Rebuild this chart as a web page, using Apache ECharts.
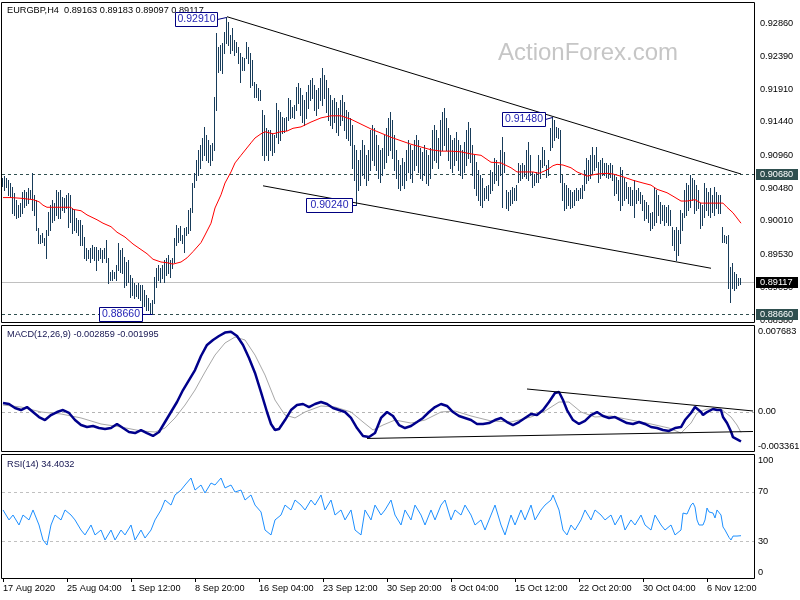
<!DOCTYPE html>
<html><head><meta charset="utf-8">
<script src="https://cdn.jsdelivr.net/npm/echarts@6/dist/echarts.min.js"></script>
<style>html,body{margin:0;padding:0;background:#fff}#c{width:800px;height:600px}</style>
</head><body><div id="c"></div><script>
// ---------------- DATA ----------------
const symbol = 'EURGBP', timeframe = 'H4';
const lastBar = [0.89163, 0.89183, 0.89097, 0.89117]; // O H L C
const highs = [
0.9062,0.9065,0.9062,0.9059,0.9055,0.9049,0.9041,0.9030,0.9023,0.9026,
0.9042,0.9045,0.9042,0.9048,0.9045,0.9069,0.9038,0.9030,0.8990,0.8980,
0.8983,0.8976,0.8987,0.9013,0.9023,0.9030,0.9026,0.9045,0.9042,0.9045,
0.9035,0.9033,0.9038,0.9041,0.9038,0.9019,0.9016,0.9005,0.9002,0.9002,
0.8994,0.8977,0.8961,0.8958,0.8961,0.8966,0.8963,0.8963,0.8958,0.8961,
0.8958,0.8961,0.8973,0.8947,0.8927,0.8929,0.8927,0.8937,0.8968,0.8958,
0.8961,0.8948,0.8941,0.8944,0.8922,0.8918,0.8911,0.8908,0.8911,0.8908,
0.8908,0.8901,0.8893,0.8889,0.8882,0.8886,0.8919,0.8932,0.8937,0.8932,
0.8937,0.8944,0.8947,0.8951,0.8944,0.8947,0.8976,0.8994,0.8990,0.8993,
0.8980,0.8990,0.8992,0.9016,0.9019,0.9055,0.9069,0.9088,0.9103,0.9110,
0.9120,0.9136,0.9124,0.9117,0.9110,0.9113,0.9179,0.9271,0.9251,0.9254,
0.9257,0.9273,0.9295,0.9287,0.9269,0.9279,0.9261,0.9258,0.9251,0.9243,
0.9237,0.9235,0.9258,0.9251,0.9243,0.9233,0.9201,0.9198,0.9192,0.9189,
0.9160,0.9153,0.9134,0.9132,0.9132,0.9127,0.9124,0.9170,0.9160,0.9157,
0.9150,0.9149,0.9150,0.9178,0.9175,0.9165,0.9168,0.9194,0.9199,0.9192,
0.9182,0.9175,0.9186,0.9196,0.9204,0.9207,0.9196,0.9189,0.9192,0.9207,
0.9221,0.9211,0.9204,0.9192,0.9182,0.9175,0.9178,0.9172,0.9163,0.9175,
0.9182,0.9172,0.9160,0.9157,0.9149,0.9139,0.9110,0.9103,0.9088,0.9103,
0.9117,0.9110,0.9095,0.9103,0.9132,0.9139,0.9134,0.9124,0.9110,0.9103,
0.9106,0.9124,0.9134,0.9149,0.9157,0.9146,0.9124,0.9103,0.9088,0.9081,
0.9091,0.9085,0.9103,0.9117,0.9110,0.9103,0.9117,0.9124,0.9117,0.9106,
0.9100,0.9110,0.9103,0.9095,0.9106,0.9132,0.9139,0.9132,0.9120,0.9146,
0.9157,0.9163,0.9149,0.9134,0.9124,0.9117,0.9120,0.9129,0.9117,0.9110,
0.9103,0.9114,0.9132,0.9143,0.9134,0.9110,0.9095,0.9085,0.9074,0.9067,
0.9062,0.9048,0.9051,0.9052,0.9074,0.9071,0.9091,0.9088,0.9081,0.9103,
0.9121,0.9100,0.9045,0.9042,0.9045,0.9049,0.9048,0.9052,0.9084,0.9081,
0.9084,0.9081,0.9103,0.9114,0.9095,0.9071,0.9068,0.9071,0.9095,0.9088,
0.9107,0.9103,0.9081,0.9088,0.9134,0.9150,0.9146,0.9136,0.9134,0.9132,
0.9067,0.9055,0.9052,0.9048,0.9045,0.9042,0.9045,0.9048,0.9045,0.9048,
0.9052,0.9074,0.9091,0.9088,0.9095,0.9107,0.9095,0.9107,0.9085,0.9088,
0.9091,0.9084,0.9084,0.9081,0.9084,0.9081,0.9067,0.9064,0.9059,0.9078,
0.9074,0.9062,0.9056,0.9049,0.9049,0.9045,0.9059,0.9045,0.9048,0.9042,
0.9038,0.9030,0.9028,0.9023,0.9012,0.9013,0.9049,0.9045,0.9038,0.9028,
0.9023,0.9023,0.9020,0.9023,0.9016,0.8992,0.8987,0.8992,0.8987,0.9016,
0.9012,0.9045,0.9055,0.9052,0.9067,0.9062,0.9059,0.9052,0.9045,0.9026,
0.9023,0.9055,0.9048,0.9042,0.9048,0.9038,0.9049,0.9042,0.9038,0.9038,
0.8992,0.8980,0.8978,0.8980,0.8934,0.8940,0.8927,0.8924,0.8918,0.89183];
const lows = [
0.9051,0.9045,0.9049,0.9038,0.9035,0.9012,0.9009,0.9005,0.9006,0.9007,
0.9012,0.9020,0.9023,0.9026,0.9033,0.9016,0.9009,0.8987,0.8968,0.8968,
0.8970,0.8966,0.8947,0.8980,0.8987,0.8999,0.9002,0.9009,0.9005,0.9005,
0.9016,0.9013,0.9019,0.8992,0.8999,0.8983,0.8987,0.8984,0.8980,0.8966,
0.8966,0.8947,0.8944,0.8947,0.8941,0.8947,0.8944,0.8929,0.8944,0.8947,
0.8941,0.8947,0.8941,0.8911,0.8915,0.8915,0.8918,0.8915,0.8929,0.8927,
0.8925,0.8905,0.8908,0.8912,0.8891,0.8893,0.8889,0.8892,0.8889,0.8886,
0.8875,0.8878,0.8872,0.8872,0.8867,0.8866,0.8882,0.8905,0.8915,0.8912,
0.8918,0.8912,0.8922,0.8925,0.8919,0.8932,0.8941,0.8966,0.8970,0.8973,
0.8968,0.8955,0.8980,0.8983,0.8987,0.9013,0.9049,0.9059,0.9067,0.9077,
0.9088,0.9095,0.9088,0.9085,0.9081,0.9088,0.9103,0.9160,0.9215,0.9218,
0.9214,0.9243,0.9257,0.9254,0.9243,0.9247,0.9240,0.9244,0.9228,0.9201,
0.9218,0.9218,0.9235,0.9228,0.9194,0.9196,0.9179,0.9179,0.9175,0.9175,
0.9095,0.9088,0.9095,0.9088,0.9103,0.9095,0.9100,0.9121,0.9113,0.9117,
0.9127,0.9129,0.9132,0.9146,0.9149,0.9150,0.9149,0.9160,0.9170,0.9153,
0.9143,0.9139,0.9149,0.9163,0.9175,0.9178,0.9160,0.9153,0.9163,0.9175,
0.9168,0.9178,0.9157,0.9146,0.9139,0.9134,0.9143,0.9129,0.9124,0.9139,
0.9146,0.9132,0.9120,0.9117,0.9110,0.9077,0.9059,0.9024,0.9045,0.9052,
0.9067,0.9062,0.9052,0.9059,0.9074,0.9088,0.9081,0.9074,0.9062,0.9056,
0.9067,0.9077,0.9085,0.9095,0.9103,0.9091,0.9074,0.9062,0.9048,0.9045,
0.9052,0.9048,0.9059,0.9071,0.9062,0.9056,0.9074,0.9081,0.9071,0.9062,
0.9059,0.9067,0.9055,0.9052,0.9062,0.9077,0.9088,0.9085,0.9077,0.9095,
0.9103,0.9110,0.9103,0.9088,0.9077,0.9071,0.9081,0.9088,0.9074,0.9067,
0.9062,0.9071,0.9081,0.9091,0.9085,0.9067,0.9048,0.9038,0.9030,0.9023,
0.9020,0.9030,0.9033,0.9030,0.9041,0.9045,0.9055,0.9059,0.9052,0.9067,
0.9020,0.9071,0.9019,0.9016,0.9023,0.9026,0.9030,0.9030,0.9056,0.9059,
0.9062,0.9065,0.9062,0.9059,0.9067,0.9049,0.9052,0.9056,0.9056,0.9062,
0.9078,0.9081,0.9064,0.9067,0.9103,0.9107,0.9117,0.9121,0.9120,0.9056,
0.9030,0.9016,0.9019,0.9023,0.9019,0.9020,0.9023,0.9030,0.9030,0.9033,
0.9033,0.9045,0.9055,0.9059,0.9062,0.9069,0.9074,0.9078,0.9056,0.9062,
0.9067,0.9067,0.9064,0.9062,0.9064,0.9059,0.9038,0.9041,0.9030,0.9016,
0.9023,0.9030,0.9033,0.9026,0.9023,0.9023,0.9006,0.9026,0.9030,0.9026,
0.9016,0.9002,0.9005,0.8999,0.8987,0.8990,0.8994,0.8999,0.9009,0.8997,
0.9002,0.8994,0.8999,0.8994,0.8994,0.8966,0.8958,0.8944,0.8951,0.8968,
0.8987,0.9006,0.9009,0.9016,0.9020,0.9030,0.9012,0.9016,0.9019,0.8990,
0.8994,0.9006,0.9016,0.9009,0.9006,0.9013,0.9009,0.9019,0.9012,0.9012,
0.8970,0.8970,0.8968,0.8904,0.8883,0.8904,0.8901,0.8904,0.8908,0.89097];

// moving average (read at sampled bars)
const maIdx = [0,4,9,15,18,20,22,34,35,39,42,47,50,54,57,61,65,69,72,75,79,82,85,89,92,95,99,101,104,106,109,111,114,116,119,124,126,129,131,135,139,142,145,149,154,159,164,169,174,179,184,189,194,199,204,209,214,219,224,229,234,239,244,249,254,257,265,268,272,275,277,280,284,287,292,297,302,305,310,315,320,324,327,332,335,339,342,346,349,354,360,362,365,369];
const maVal = [0.9034,0.9034,0.9033,0.9031,0.9028,0.9023,0.9020,0.9020,0.9017,0.9015,0.9009,0.9002,0.8997,0.8992,0.8984,0.8977,0.8967,0.8959,0.8953,0.8945,0.8941,0.8940,0.8938,0.8941,0.8947,0.8956,0.8969,0.8980,0.8997,0.9019,0.9038,0.9055,0.9071,0.9084,0.9095,0.9113,0.9120,0.9126,0.9129,0.9126,0.9129,0.9130,0.9134,0.9136,0.9143,0.9149,0.9152,0.9152,0.9147,0.9140,0.9133,0.9127,0.9121,0.9116,0.9111,0.9107,0.9103,0.9101,0.9101,0.9100,0.9097,0.9095,0.9085,0.9084,0.9077,0.9071,0.9071,0.9069,0.9074,0.9080,0.9082,0.9081,0.9077,0.9071,0.9065,0.9068,0.9069,0.9068,0.9064,0.9059,0.9055,0.9052,0.9046,0.9041,0.9036,0.9029,0.9029,0.9031,0.9026,0.9026,0.9026,0.9020,0.9012,0.8997];

// MACD main and signal (sampled bars)
const macdIdx = [0,3,6,9,12,15,18,21,24,27,30,33,36,39,42,45,48,51,54,57,60,63,66,69,72,75,78,81,84,87,90,93,96,99,102,105,108,111,114,117,120,123,126,129,132,134,136,138,141,144,147,150,153,156,159,162,165,168,171,174,177,180,183,186,189,192,195,198,201,204,207,210,213,216,219,222,225,228,231,234,237,240,243,246,249,252,255,258,261,264,267,270,273,276,278,280,282,285,288,291,294,297,300,303,306,309,312,315,318,321,324,327,330,333,336,339,341,344,346,349,350,352,355,357,359,360,362,364,365,368,369];
const macdVal = [0.00084,0.00074,0.00036,0.00016,0.00045,-0.00003,-0.00051,-0.00080,-0.00032,-0.00003,
0.00016,-0.00012,-0.00080,-0.00128,-0.00147,-0.00137,-0.00157,-0.00166,-0.00157,-0.00118,
-0.00157,-0.00195,-0.00205,-0.00176,-0.00205,-0.00233,-0.00195,-0.00099,-0.00003,0.00093,
0.00208,0.00304,0.00400,0.00535,0.00641,0.00689,0.00727,0.00760,0.007683,0.00727,
0.00641,0.00516,0.00372,0.00189,-0.00003,-0.00118,-0.00176,-0.00166,-0.00080,0.00016,
0.00064,0.00074,0.00045,0.00074,0.00093,0.00074,0.00036,0.00016,-0.00003,-0.00060,
-0.00157,-0.00233,-0.00243,-0.00205,-0.00060,-0.00003,-0.00041,-0.00128,-0.00157,-0.00137,
-0.00099,-0.00060,-0.00003,0.00045,0.00074,0.00055,-0.00003,-0.00041,-0.00060,-0.00080,
-0.00118,-0.00118,-0.00109,-0.00080,-0.00060,-0.00099,-0.00128,-0.00099,-0.00060,-0.00022,
-0.00032,0.00016,0.00093,0.00180,0.00189,0.00112,0.00016,-0.00080,-0.00118,-0.00089,
-0.00032,-0.00003,-0.00041,-0.00060,-0.00051,-0.00080,-0.00109,-0.00118,-0.00099,-0.00118,
-0.00147,-0.00157,-0.00176,-0.00185,-0.00157,-0.00147,-0.00080,-0.00012,0.00045,-0.00003,
-0.00032,-0.00003,0.00026,0.00016,0.00016,-0.00051,-0.00109,-0.00190,-0.00245,-0.00275,
-0.002859];
const sigIdx = [0,9,19,29,39,49,59,69,76,81,86,91,96,101,106,111,116,121,126,131,136,141,146,151,159,166,174,180,185,190,196,204,211,219,226,234,244,254,264,271,278,283,289,296,304,314,324,333,339,344,347,352,359,364,367,369];
const sigVal = [0.00064,0.00045,-0.00003,-0.00022,-0.00060,-0.00118,-0.00147,-0.00185,-0.00195,-0.00157,
-0.00060,0.00064,0.00208,0.00381,0.00544,0.00660,0.00717,0.00689,0.00544,0.00352,
0.00112,-0.00032,-0.00060,-0.00003,0.00055,0.00045,-0.00003,-0.00099,-0.00176,-0.00128,
-0.00080,-0.00109,-0.00080,-0.00003,0.00007,-0.00041,-0.00089,-0.00099,-0.00051,0.00007,
0.00093,0.00093,-0.00003,-0.00051,-0.00041,-0.00080,-0.00118,-0.00157,-0.00205,-0.00109,
-0.00012,0.00026,0.00026,-0.00051,-0.00128,-0.001995];
const macdLast = [-0.002859, -0.001995];

// RSI (sampled bars)
const rsiIdx = [0,3,5,8,10,13,15,18,20,22,24,26,29,31,34,36,39,41,44,46,49,51,54,56,59,61,64,66,69,71,74,76,79,81,84,86,89,91,94,96,99,101,104,106,109,111,114,116,119,121,124,126,129,131,134,136,139,141,144,146,149,151,154,156,159,161,164,166,169,171,174,176,179,181,184,186,189,191,194,196,199,201,204,206,209,211,214,216,219,221,224,226,229,231,234,236,239,241,244,246,249,251,254,256,259,261,264,266,269,271,274,275,278,280,282,284,286,289,291,294,296,299,301,304,306,309,311,314,316,319,321,324,326,329,331,334,336,339,340,341,342,344,345,346,347,348,350,351,352,353,355,356,357,358,359,360,361,362,363,364,365,366,367,368,369];
const rsiVal = [55.3,47.2,51.2,43.1,51.2,47.2,55.3,43.1,30.9,26.8,
43.1,51.2,47.2,55.3,51.2,47.2,39.0,35.0,43.1,35.0,
39.0,30.9,39.0,30.9,39.0,35.0,43.1,30.9,39.0,32.5,
39.0,47.2,55.3,63.4,59.3,67.5,71.5,75.6,81.3,71.5,
75.6,69.1,77.2,75.6,81.3,73.2,75.6,69.9,71.5,63.4,
67.5,59.3,53.7,39.0,35.0,47.2,51.2,59.3,55.3,63.4,
59.3,55.3,63.4,59.3,67.5,55.3,63.4,51.2,55.3,47.2,
55.3,39.0,35.0,55.3,47.2,59.3,51.2,55.3,63.4,51.2,
43.1,55.3,47.2,59.3,51.2,43.1,55.3,47.2,59.3,63.4,
47.2,55.3,51.2,59.3,51.2,43.1,47.2,39.0,51.2,59.3,
43.1,35.0,51.2,43.1,55.3,47.2,59.3,47.2,55.3,59.3,
63.4,67.5,55.3,39.0,35.0,43.1,39.0,47.2,55.3,47.2,
55.3,51.2,47.2,51.2,43.1,51.2,39.0,47.2,43.1,51.2,
43.1,39.0,51.2,43.1,39.0,43.1,35.0,39.0,52.8,53.7,
52.0,59.3,61.0,57.7,47.2,43.1,43.1,47.2,56.9,53.7,
52.8,48.8,55.3,56.9,51.2,41.5,39.0,37.4,33.0,30.9,
34.1,32.5,34.1,35.0,34.4032];
const rsiLast = 34.4032;

// trend lines: [barIndex, value] end points
const trendMain = [[[112, 0.9295], [369, 0.9068]], [[130, 0.9051], [354, 0.8932]]];
const trendMacd = [[[262, 0.00218], [375, 0.00007]], [[182, -0.00257], [375, -0.00190]]];
const levels = [0.9068, 0.8866];
const rsiLevels = [30, 70];
const noteIdx = [112, 275, 177, 75];
const noteVal = [0.9291, 0.9148, 0.9024, 0.8866];

// axes
const barCount = 376;
const tickIdx = [0,32,64,96,128,160,192,224,256,288,320,352];
const tickLabels = ['17 Aug 2020','25 Aug 04:00','1 Sep 12:00','8 Sep 20:00','16 Sep 04:00','23 Sep 12:00','30 Sep 20:00','8 Oct 04:00','15 Oct 12:00','22 Oct 20:00','30 Oct 04:00','6 Nov 12:00'];
const priceLabels = [0.92860,0.92390,0.91910,0.91440,0.90960,0.90480,0.90010,0.89530,0.89050,0.88580];
const macdLabels = [0.007683, 0, -0.003361];
const macdLabelText = ['0.007683', '0.00', '-0.003361'];
const rsiLabels = [100, 70, 30, 0];
const priceRange = [0.88530, 0.93148];
const macdRange = [-0.00387, 0.00823];

// ---------------- STYLE ----------------
const F = '"Liberation Sans", Arial, sans-serif';
const FS = 9.2;
const BAR = '#183c5a';
const grids = [
  {left: 2, width: 752, top: 3, height: 320},
  {left: 2, width: 752, top: 326, height: 126},
  {left: 2, width: 752, top: 455, height: 123}
];
const NOTE_GAP = [10, 8, 5, 11];
const NOTE_W = [42, 43, 46, 43];

const cats = Array.from({length: barCount}, (_, i) => String(i));
const pairs = (idx, val) => idx.map((i, k) => [i, val[k]]);
const showTick = (index) => tickIdx.indexOf(index) >= 0;

const xAxes = grids.map((g, k) => ({
  type: 'category', gridIndex: k, data: cats, boundaryGap: true,
  axisLine: {show: false}, splitLine: {show: false},
  axisTick: k === 2 ? {show: true, interval: showTick, alignWithLabel: true, length: 4, lineStyle: {color: '#000'}} : {show: false},
  axisLabel: k === 2 ? {show: true, interval: showTick, align: 'left', margin: 6, fontSize: FS, fontFamily: F, color: '#000',
    formatter: (v) => tickLabels[tickIdx.indexOf(Number(v))] || ''} : {show: false}
}));
const yAxes = [
  {type: 'value', gridIndex: 0, min: priceRange[0], max: priceRange[1], show: false},
  {type: 'value', gridIndex: 1, min: macdRange[0], max: macdRange[1], show: false},
  {type: 'value', gridIndex: 2, min: 0, max: 100, show: false}
];

const series = [];
series.push({
  type: 'custom', xAxisIndex: 0, yAxisIndex: 0, z: 2, clip: false,
  data: highs.map((h, i) => [i, lows[i], h]),
  encode: {x: 0, y: [1, 2]},
  renderItem: (params, api) => {
    const i = api.value(0);
    const a = api.coord([i, api.value(2)]);
    const b = api.coord([i, api.value(1)]);
    const y1 = Math.round(a[1]), y2 = Math.round(b[1]);
    return {type: 'rect', shape: {x: Math.round(a[0]) - 1, y: y1, width: 1, height: Math.max(1, y2 - y1 + 1)}, style: {fill: BAR}};
  }
});
series.push({
  type: 'line', xAxisIndex: 0, yAxisIndex: 0, z: 3, showSymbol: false, silent: true,
  data: pairs(maIdx, maVal), lineStyle: {color: '#ff0000', width: 1}
});
trendMain.forEach(t => series.push({type: 'line', xAxisIndex: 0, yAxisIndex: 0, z: 4, showSymbol: false, silent: true,
  data: t, lineStyle: {color: '#000', width: 1}}));
series.push({
  type: 'line', xAxisIndex: 1, yAxisIndex: 1, z: 2, showSymbol: false, silent: true,
  data: pairs(sigIdx, sigVal), lineStyle: {color: '#a8a8a8', width: 1}
});
series.push({
  type: 'line', xAxisIndex: 1, yAxisIndex: 1, z: 3, showSymbol: false, silent: true,
  data: pairs(macdIdx, macdVal), lineStyle: {color: '#00008b', width: 2.5}
});
trendMacd.forEach(t => series.push({type: 'line', xAxisIndex: 1, yAxisIndex: 1, z: 4, showSymbol: false, silent: true,
  data: t, lineStyle: {color: '#000', width: 1}}));
series.push({
  type: 'line', xAxisIndex: 2, yAxisIndex: 2, z: 3, showSymbol: false, silent: true,
  data: pairs(rsiIdx, rsiVal), lineStyle: {color: '#1e90ff', width: 1}
});

const chart = echarts.init(document.getElementById('c'), null, {renderer: 'canvas', width: 800, height: 600});
chart.setOption({
  backgroundColor: '#ffffff', animation: false,
  grid: grids.map(g => Object.assign({containLabel: false, show: false}, g)),
  xAxis: xAxes, yAxis: yAxes, series: series
});

// ---------------- GRAPHIC OVERLAYS ----------------
const P = (g, i, v) => chart.convertToPixel({gridIndex: g}, [i, v]);
const els = [];
const txt = (x, y, t, fill, size, align, z) => ({type: 'text', silent: true, z: z || 50,
  style: {x: x, y: y, text: t, fill: fill, fontSize: size, fontFamily: F, align: align || 'left', verticalAlign: 'middle'}});
const rect = (x, y, w, h, fill, stroke, z) => ({type: 'rect', silent: true, z: z || 50,
  shape: {x: x, y: y, width: w, height: h}, style: {fill: fill, stroke: stroke || null, lineWidth: 1}});
const hline = (g, v, stroke, dash, z) => {
  const y = Math.round(P(g, 0, v)[1]) + 0.5;
  return {type: 'line', silent: true, z: z || 1,
    shape: {x1: grids[g].left, y1: y, x2: grids[g].left + grids[g].width, y2: y},
    style: {stroke: stroke, lineWidth: 1, lineDash: dash || null}};
};

// watermark
els.push(txt(498, 53, 'ActionForex.com', '#c6c6c6', 24, 'left', 1));
// level lines
levels.forEach(v => els.push(hline(0, v, '#2f4f4f', [3, 3], 1)));
els.push(hline(0, lastBar[3], '#c0c0c0', null, 1));
els.push(hline(1, 0, '#b4b4b4', [3, 3], 1));
rsiLevels.forEach(v => els.push(hline(2, v, '#c0c0c0', [3, 3], 1)));
// panel frames
els.push(rect(1.5, 2.5, 753, 320, 'none', '#000', 60));
els.push(rect(1.5, 325.5, 753, 126, 'none', '#000', 60));
els.push(rect(1.5, 454.5, 753, 124, 'none', '#000', 60));
// headers
els.push(txt(7, 10, symbol + ',' + timeframe + '  ' + lastBar.map(v => v.toFixed(5)).join(' '), '#000', FS));
els.push(txt(7, 334, 'MACD(12,26,9) ' + macdLast.map(v => v.toFixed(6)).join(' '), '#141450', FS));
els.push(txt(7, 464, 'RSI(14) ' + rsiLast.toFixed(4), '#141450', FS));

// right-hand scale labels
priceLabels.forEach(v => els.push(txt(760, Math.round(P(0, 0, v)[1]), v.toFixed(5), '#000', FS)));
const clampY = (y, g) => Math.min(g.top + g.height - 5.5, Math.max(g.top + 5.5, y));
macdLabels.forEach((v, k) => els.push(txt(758, clampY(P(1, 0, v)[1], grids[1]), macdLabelText[k], '#000', FS)));
rsiLabels.forEach(v => els.push(txt(758, clampY(P(2, 0, v)[1], grids[2]), String(v), '#000', FS)));

// highlighted price boxes
[[levels[0], '#2f4f4f'], [levels[1], '#2f4f4f'], [lastBar[3], '#000000']].forEach(([v, c]) => {
  const y = Math.round(P(0, 0, v)[1]);
  els.push(rect(756, y - 5, 42, 11, c, null, 70));
  els.push(txt(760, y + 0.5, v.toFixed(5), '#ffffff', FS, 'left', 71));
});

// annotation boxes
noteIdx.forEach((i, k) => {
  const v = noteVal[k];
  const p = P(0, i, v);
  const w = NOTE_W[k];
  const cy = Math.round(p[1]);
  const bx = Math.round(p[0] - NOTE_GAP[k] - w) + 0.5;
  const ext = Math.abs(highs[i] - v) < Math.abs(lows[i] - v) ? highs[i] : lows[i];
  const q = P(0, i, ext);
  els.push({type: 'line', silent: true, z: 80, shape: {x1: bx + w, y1: cy + 0.5, x2: Math.round(q[0]) - 0.5, y2: Math.round(q[1]) + 0.5},
    style: {stroke: '#000080', lineWidth: 1}});
  els.push(rect(bx, cy - 6.5, w, 14, '#ffffff', '#000080', 81));
  els.push(txt(bx + w / 2, cy + 0.5, v.toFixed(5), '#1f1fb4', 10.5, 'center', 82));
});

chart.setOption({graphic: {elements: els}});
</script></body></html>
